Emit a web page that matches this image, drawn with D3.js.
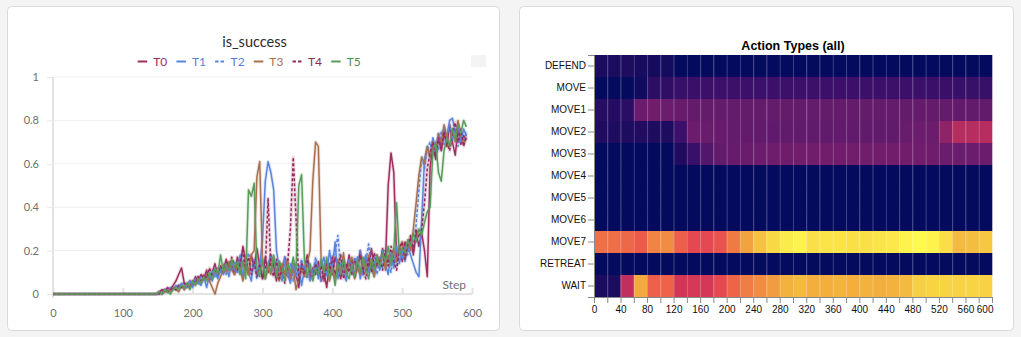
<!DOCTYPE html>
<html>
<head>
<meta charset="utf-8">
<script src="https://cdn.jsdelivr.net/npm/d3@7"></script>
<style>
  html, body { margin: 0; padding: 0; background: #f4f4f4; }
  svg { display: block; }
</style>
</head>
<body>
<svg id="root" width="1021" height="337"></svg>
<script>
// ---------- is_success line chart data ----------
const steps = [0,
  148,152,156,160,164,168,172,176,180,184,
  188,192,196,200,204,208,212,216,220,224,
  228,232,236,240,244,248,252,256,260,264,
  268,272,276,280,284,288,292,296,300,304,
  308,312,316,320,324,328,332,336,340,344,
  348,352,356,360,364,368,372,376,380,384,
  388,392,396,400,404,408,412,416,420,424,
  428,432,436,440,444,448,452,456,460,464,
  468,472,476,480,484,488,492,496,500,504,
  508,512,516,520,524,528,532,536,540,544,
  548,552,556,560,564,568,572,576,580,584,588,592];

const seriesNames = ["T0", "T1", "T2", "T3", "T4", "T5"];

const T0 = [0,
  0,0.01,0.02,0.01,0.03,0.02,0.04,0.06,0.09,0.12,
  0.05,0.03,0.06,0.04,0.08,0.05,0.09,0.07,0.11,0.06,
  0.1,0.14,0.08,0.12,0.1,0.16,0.11,0.13,0.09,0.17,
  0.12,0.22,0.15,0.09,0.18,0.12,0.21,0.13,0.07,0.17,
  0.1,0.18,0.13,0.06,0.15,0.09,0.17,0.12,0.07,0.14,
  0.09,0.03,0.15,0.1,0.18,0.07,0.12,0.09,0.15,0.06,
  0.1,0.03,0.14,0.09,0.17,0.12,0.07,0.14,0.1,0.18,
  0.09,0.16,0.11,0.2,0.1,0.17,0.12,0.21,0.11,0.18,
  0.13,0.21,0.14,0.5,0.65,0.56,0.17,0.22,0.15,0.24,
  0.2,0.26,0.18,0.28,0.22,0.28,0.2,0.08,0.58,0.68,
  0.62,0.72,0.66,0.74,0.68,0.78,0.7,0.64,0.76,0.69,0.73,0.71];

const T1 = [0,
  0,0.01,0,0.02,0.01,0.03,0.02,0.04,0.03,0.05,
  0.02,0.04,0.06,0.03,0.07,0.05,0.04,0.08,0.03,0.09,
  0.06,0.1,0.07,0.12,0.09,0.13,0.08,0.15,0.11,0.1,
  0.18,0.07,0.14,0.1,0.06,0.16,0.09,0.13,0.25,0.52,
  0.61,0.56,0.48,0.2,0.12,0.06,0.16,0.09,0.05,0.14,
  0.08,0.13,0.04,0.11,0.16,0.06,0.1,0.15,0.07,0.13,
  0.17,0.09,0.2,0.12,0.24,0.07,0.14,0.1,0.06,0.16,
  0.12,0.08,0.17,0.07,0.14,0.18,0.1,0.15,0.08,0.17,
  0.11,0.2,0.14,0.09,0.19,0.12,0.22,0.14,0.21,0.15,
  0.22,0.18,0.14,0.1,0.08,0.35,0.62,0.68,0.63,0.72,
  0.66,0.74,0.7,0.77,0.72,0.8,0.81,0.74,0.78,0.7,0.76,0.73];

const T2 = [0,
  0,0,0.01,0.02,0.01,0.02,0.03,0.02,0.04,0.03,
  0.05,0.03,0.06,0.04,0.07,0.05,0.08,0.06,0.09,0.07,
  0.11,0.08,0.12,0.1,0.14,0.09,0.13,0.11,0.15,0.12,
  0.09,0.16,0.12,0.19,0.1,0.14,0.07,0.12,0.16,0.08,
  0.14,0.18,0.1,0.15,0.07,0.12,0.17,0.08,0.14,0.06,
  0.12,0.09,0.16,0.1,0.07,0.14,0.09,0.17,0.12,0.06,
  0.14,0.08,0.12,0.17,0.19,0.27,0.11,0.15,0.08,0.14,
  0.1,0.17,0.12,0.2,0.08,0.15,0.23,0.11,0.17,0.09,
  0.17,0.12,0.2,0.15,0.1,0.19,0.13,0.21,0.16,0.22,
  0.18,0.24,0.22,0.32,0.48,0.63,0.58,0.67,0.7,0.64,
  0.7,0.66,0.75,0.69,0.73,0.78,0.71,0.76,0.68,0.74,0.7,0.75];

const T3 = [0,
  0,0.01,0,0.01,0.02,0.01,0.03,0.02,0.01,0.04,
  0.02,0.05,0.03,0.06,0.04,0.08,0.05,0.07,0.09,0.06,
  0.03,0,0.05,0.08,0.12,0.1,0.15,0.11,0.09,0.14,
  0.12,0.06,0.17,0.09,0.18,0.2,0.54,0.61,0.15,0.07,
  0.12,0.09,0.17,0.1,0.06,0.14,0.09,0.16,0.07,0.12,
  0.02,0.07,0.12,0.08,0.14,0.2,0.52,0.7,0.68,0.15,
  0.09,0.14,0.06,0.12,0.07,0.16,0.1,0.19,0.09,0.14,
  0.17,0.07,0.12,0.09,0.16,0.1,0.18,0.12,0.08,0.17,
  0.13,0.19,0.11,0.18,0.14,0.21,0.15,0.2,0.24,0.17,
  0.24,0.2,0.3,0.42,0.55,0.63,0.6,0.68,0.63,0.7,
  0.66,0.74,0.69,0.78,0.72,0.68,0.76,0.7,0.8,0.73,0.69,0.72];

const T4 = [0,
  0,0,0.01,0.02,0.01,0.02,0.03,0.02,0.04,0.03,
  0.05,0.04,0.03,0.06,0.05,0.08,0.06,0.09,0.07,0.12,
  0.08,0.11,0.09,0.13,0.1,0.15,0.12,0.17,0.13,0.11,
  0.15,0.2,0.11,0.17,0.09,0.15,0.08,0.14,0.07,0.12,
  0.44,0.12,0.08,0.16,0.07,0.12,0.05,0.14,0.3,0.63,
  0.35,0.06,0.12,0.09,0.16,0.11,0.07,0.14,0.09,0.13,
  0.06,0.14,0.1,0.17,0.09,0.12,0.18,0.07,0.14,0.1,
  0.15,0.08,0.14,0.18,0.11,0.07,0.17,0.1,0.19,0.13,
  0.16,0.11,0.2,0.13,0.22,0.15,0.11,0.21,0.24,0.16,
  0.23,0.27,0.2,0.3,0.26,0.3,0.42,0.58,0.65,0.7,
  0.64,0.72,0.67,0.75,0.7,0.66,0.74,0.79,0.7,0.76,0.68,0.73];

const T5 = [0,
  0,0.01,0,0.02,0.01,0,0.02,0.03,0.02,0.04,
  0.03,0.05,0.02,0.06,0.04,0.07,0.05,0.08,0.06,0.1,
  0.07,0.12,0.09,0.18,0.1,0.14,0.11,0.16,0.12,0.15,
  0.09,0.15,0.07,0.48,0.45,0.51,0.12,0.08,0.16,0.07,
  0.14,0.1,0.18,0.08,0.15,0.12,0.06,0.14,0.1,0.17,
  0.11,0.5,0.55,0.16,0.08,0.14,0.06,0.12,0.09,0.16,
  0.1,0.17,0.07,0.12,0.04,0.14,0.09,0.16,0.1,0.07,
  0.14,0.08,0.16,0.1,0.17,0.12,0.07,0.16,0.11,0.18,
  0.12,0.19,0.15,0.22,0.13,0.2,0.42,0.18,0.21,0.19,
  0.25,0.22,0.28,0.24,0.3,0.27,0.33,0.38,0.4,0.66,
  0.7,0.56,0.52,0.66,0.72,0.68,0.76,0.71,0.78,0.74,0.8,0.77];

const xTicksLine = [0, 100, 200, 300, 400, 500, 600];
const yTicksLine = [0, 0.2, 0.4, 0.6, 0.8, 1];

// ---------- action-type heatmap data ----------
const actions = ["DEFEND","MOVE","MOVE1","MOVE2","MOVE3","MOVE4","MOVE5","MOVE6","MOVE7","RETREAT","WAIT"];
const binStarts = [0,20,40,60,80,100,120,140,160,180,200,220,240,260,280,
                   300,320,340,360,380,400,420,440,460,480,500,520,540,560,580];
const binWidth = 20;

// relative intensity per action and step bin
const DEFEND  = [0.07,0.07,0.075,0.06,0.055,0.05,0.01,0.01,0.01,0.01,0.01,0.01,0.01,0.01,0.01,
                 0.01,0.01,0.01,0.01,0.01,0.01,0.01,0.01,0.01,0.01,0.01,0.01,0.01,0.01,0.01];
const MOVE    = [0.01,0.01,0.01,0.04,0.12,0.13,0.15,0.155,0.16,0.16,0.16,0.16,0.16,0.16,0.16,
                 0.16,0.16,0.16,0.16,0.16,0.16,0.16,0.16,0.16,0.16,0.155,0.155,0.15,0.15,0.15];
const MOVE1   = [0.1,0.09,0.11,0.29,0.31,0.29,0.28,0.27,0.27,0.27,0.27,0.27,0.27,0.27,0.27,
                 0.27,0.27,0.27,0.27,0.27,0.27,0.27,0.27,0.27,0.27,0.27,0.27,0.265,0.265,0.26];
const MOVE2   = [0.08,0.075,0.075,0.085,0.075,0.075,0.16,0.29,0.285,0.28,0.27,0.265,0.26,0.255,0.26,
                 0.26,0.26,0.26,0.26,0.26,0.26,0.26,0.26,0.285,0.29,0.295,0.38,0.455,0.455,0.46];
const MOVE3   = [0.01,0.01,0.01,0.01,0.01,0.01,0.08,0.15,0.22,0.26,0.275,0.285,0.29,0.3,0.305,
                 0.31,0.31,0.31,0.31,0.31,0.31,0.31,0.31,0.31,0.31,0.305,0.29,0.29,0.29,0.29];
const MOVE4   = [0.01,0.01,0.01,0.01,0.01,0.01,0.01,0.01,0.01,0.01,0.01,0.01,0.01,0.01,0.01,
                 0.01,0.01,0.01,0.01,0.01,0.01,0.01,0.01,0.01,0.01,0.01,0.01,0.01,0.01,0.01];
const MOVE5   = [0.01,0.01,0.01,0.01,0.01,0.01,0.01,0.01,0.01,0.01,0.01,0.01,0.01,0.01,0.01,
                 0.01,0.01,0.01,0.01,0.01,0.01,0.01,0.01,0.01,0.01,0.01,0.01,0.01,0.01,0.01];
const MOVE6   = [0.01,0.01,0.01,0.01,0.01,0.01,0.01,0.01,0.01,0.01,0.01,0.01,0.01,0.01,0.01,
                 0.01,0.01,0.01,0.01,0.01,0.01,0.01,0.01,0.01,0.01,0.01,0.01,0.01,0.01,0.01];
const MOVE7   = [0.68,0.675,0.66,0.635,0.715,0.735,0.645,0.585,0.585,0.615,0.7,0.78,0.86,0.915,0.96,
                 0.975,0.93,0.94,0.94,0.93,0.93,0.94,0.95,0.975,0.99,0.975,0.925,0.84,0.85,0.88];
const RETREAT = [0.01,0.01,0.01,0.01,0.01,0.01,0.01,0.01,0.01,0.01,0.01,0.01,0.01,0.01,0.01,
                 0.01,0.01,0.01,0.01,0.01,0.01,0.01,0.01,0.01,0.01,0.01,0.01,0.01,0.01,0.01];
const WAIT    = [0.07,0.07,0.48,0.8,0.645,0.65,0.53,0.54,0.535,0.585,0.655,0.705,0.735,0.765,0.82,
                 0.84,0.81,0.81,0.825,0.81,0.82,0.81,0.82,0.84,0.895,0.905,0.905,0.9,0.905,0.9];

const heatRows = [DEFEND, MOVE, MOVE1, MOVE2, MOVE3, MOVE4, MOVE5, MOVE6, MOVE7, RETREAT, WAIT];
const xTicksHeat = [0,20,40,60,80,100,120,140,160,180,200,220,240,260,280,300,
                    320,340,360,380,400,420,440,460,480,500,520,540,560,580,600];

// ---------- drawing ----------
const svg = d3.select("#root");

// card panels
svg.append("rect").attr("x", 7.5).attr("y", 6.5).attr("width", 492).attr("height", 324)
  .attr("rx", 4).attr("fill", "#fff").attr("stroke", "#dadada");
svg.append("rect").attr("x", 519.5).attr("y", 6.5).attr("width", 494).attr("height", 324)
  .attr("rx", 4).attr("fill", "#fff").attr("stroke", "#dadada");

// ----- line chart -----
const lineFont = "Lato, 'Open Sans', sans-serif";
const xL = d3.scaleLinear().domain([0, 600]).range([53, 472]);
const yL = d3.scaleLinear().domain([0, 1]).range([294, 77]);

const colors = {
  T0: "#9e2f60", T1: "#5b84dc", T2: "#5b84dc",
  T3: "#a8704f", T4: "#962a5c", T5: "#5a9c5c"
};
const textColors = {
  T0: "#9a2d5d", T1: "#5a7fd6", T2: "#5a7fd6",
  T3: "#a5725a", T4: "#8e2a5a", T5: "#4f8f52"
};
const dashed = { T2: "3,2", T4: "3,2" };

const gL = svg.append("g");

// horizontal gridlines
gL.append("g").selectAll("line")
  .data(yTicksLine.filter(d => d > 0))
  .join("line")
  .attr("x1", xL(0)).attr("x2", xL(600))
  .attr("y1", d => yL(d)).attr("y2", d => yL(d))
  .attr("stroke", "#f0f0f0").attr("stroke-width", 1);

// y axis
const yAxisL = gL.append("g").attr("transform", `translate(${xL(0)},0)`)
  .call(d3.axisLeft(yL).tickValues(yTicksLine).tickSize(6).tickPadding(8)
        .tickFormat(d3.format("~g")));
yAxisL.select(".domain").remove();
yAxisL.selectAll(".tick line").attr("stroke", "#e8e8e8");
yAxisL.selectAll(".tick text").attr("fill", "#6f6f6f")
  .style("font-family", lineFont).style("font-size", "11px");
gL.append("line").attr("x1", xL(0)).attr("x2", xL(0)).attr("y1", yL(1)).attr("y2", yL(0) + 4)
  .attr("stroke", "#e3e3e3").attr("stroke-width", 2);

// x axis
const xAxisL = gL.append("g").attr("transform", `translate(0,${yL(0)})`)
  .call(d3.axisBottom(xL).tickValues(xTicksLine).tickSize(0).tickPadding(15));
xAxisL.select(".domain").remove();
xAxisL.selectAll(".tick text").attr("fill", "#6f6f6f")
  .style("font-family", lineFont).style("font-size", "11px");
xAxisL.selectAll(".tick").append("line")
  .attr("y1", -6).attr("y2", 0).attr("stroke", "#e3e3e3").attr("stroke-width", 2);
gL.append("line").attr("x1", xL(0)).attr("x2", xL(600)).attr("y1", yL(0)).attr("y2", yL(0))
  .attr("stroke", "#e3e3e3").attr("stroke-width", 2);

gL.append("text").attr("x", 466).attr("y", 289).attr("text-anchor", "end")
  .attr("fill", "#6f6f6f").style("font-family", lineFont).style("font-size", "12px")
  .text("Step");

// series lines
const seriesData = { T0, T1, T2, T3, T4, T5 };
const line = d3.line().x((d, i) => xL(steps[i])).y(d => yL(d));
const gLines = gL.append("g");
seriesNames.forEach(name => {
  gLines.append("path").datum(seriesData[name])
    .attr("d", line).attr("fill", "none")
    .attr("stroke", colors[name]).attr("stroke-opacity", 0.18).attr("stroke-width", 3.5)
    .attr("stroke-linejoin", "round");
});
seriesNames.forEach(name => {
  gLines.append("path").datum(seriesData[name])
    .attr("d", line).attr("fill", "none")
    .attr("stroke", colors[name]).attr("stroke-width", 1.5)
    .attr("stroke-linejoin", "round")
    .attr("stroke-dasharray", dashed[name] || null);
});

// title
gL.append("text").attr("x", 254.5).attr("y", 47).attr("text-anchor", "middle")
  .attr("fill", "#2b2b2b").style("font-family", lineFont).style("font-size", "14.5px")
  .text("is_success");

// legend
const legend = gL.append("g");
seriesNames.forEach((name, i) => {
  const x0 = 137.7 + i * 38.7;
  legend.append("line").attr("x1", x0).attr("x2", x0 + 9.5).attr("y1", 61.5).attr("y2", 61.5)
    .attr("stroke", colors[name]).attr("stroke-width", 2)
    .attr("stroke-dasharray", dashed[name] ? "3.5,2" : null);
  legend.append("text").attr("x", x0 + 15.5).attr("y", 65.5)
    .attr("fill", textColors[name]).style("font-family", lineFont).style("font-size", "12px")
    .text(name);
});

// toolbar placeholder square
gL.append("rect").attr("x", 471).attr("y", 55).attr("width", 15).attr("height", 12)
  .attr("fill", "#f4f4f4");

// ----- heatmap -----
const heatFont = "'Liberation Sans', Arial, sans-serif";
const xH = d3.scaleLinear().domain([0, 600]).range([594, 992]);
const yH = d3.scaleBand().domain(actions).range([55, 297]).padding(0);
const heatColor = d3.scaleLinear()
  .domain([0, 0.08, 0.16, 0.26, 0.34, 0.45, 0.52, 0.58, 0.64, 0.70, 0.76, 0.82, 0.88, 0.94, 1.0])
  .range(["#000b5e", "#1f0c60", "#3b0f6a", "#621a6c", "#7a1e6c", "#b42c60", "#cf3358", "#e34652",
          "#ec5d4a", "#ef7a44", "#f19a40", "#f3b23e", "#f6c842", "#fbe448", "#fffd4e"])
  .interpolate(d3.interpolateRgb)
  .clamp(true);

const cells = [];
actions.forEach((a, r) => {
  binStarts.forEach((b, c) => cells.push({ action: a, bin: b, value: heatRows[r][c] }));
});

const gH = svg.append("g");
gH.append("g").selectAll("rect").data(cells).join("rect")
  .attr("x", d => xH(d.bin))
  .attr("y", d => yH(d.action))
  .attr("width", d => xH(d.bin + binWidth) - xH(d.bin) + 0.3)
  .attr("height", yH.bandwidth() + 0.3)
  .attr("fill", d => heatColor(d.value));

// faint vertical separators between step bins
gH.append("g").selectAll("line").data(xTicksHeat.slice(1, -1)).join("line")
  .attr("x1", d => xH(d) + 0.5).attr("x2", d => xH(d) + 0.5)
  .attr("y1", 55).attr("y2", 297)
  .attr("stroke", "#ffffff").attr("stroke-opacity", 0.22).attr("stroke-width", 1);

// axes
const yAxisH = gH.append("g").attr("transform", "translate(594,0)")
  .call(d3.axisLeft(yH).tickSize(6).tickPadding(2));
const xAxisH = gH.append("g").attr("transform", "translate(0,297)")
  .call(d3.axisBottom(xH).tickValues(xTicksHeat).tickSize(6)
        .tickFormat(d => d % 40 === 0 ? d : ""));
[yAxisH, xAxisH].forEach(ax => {
  ax.selectAll(".domain, .tick line").attr("stroke", "#888");
  ax.selectAll(".tick text").attr("fill", "#111")
    .style("font-family", heatFont).style("font-size", "10px");
});
xAxisH.selectAll(".tick text").filter(d => d === 600).attr("text-anchor", "end").attr("x", 1);

gH.append("text").attr("x", 793).attr("y", 49.5).attr("text-anchor", "middle")
  .attr("fill", "#000").style("font-family", heatFont).style("font-size", "12.5px")
  .style("font-weight", "bold").text("Action Types (all)");
</script>
</body>
</html>
